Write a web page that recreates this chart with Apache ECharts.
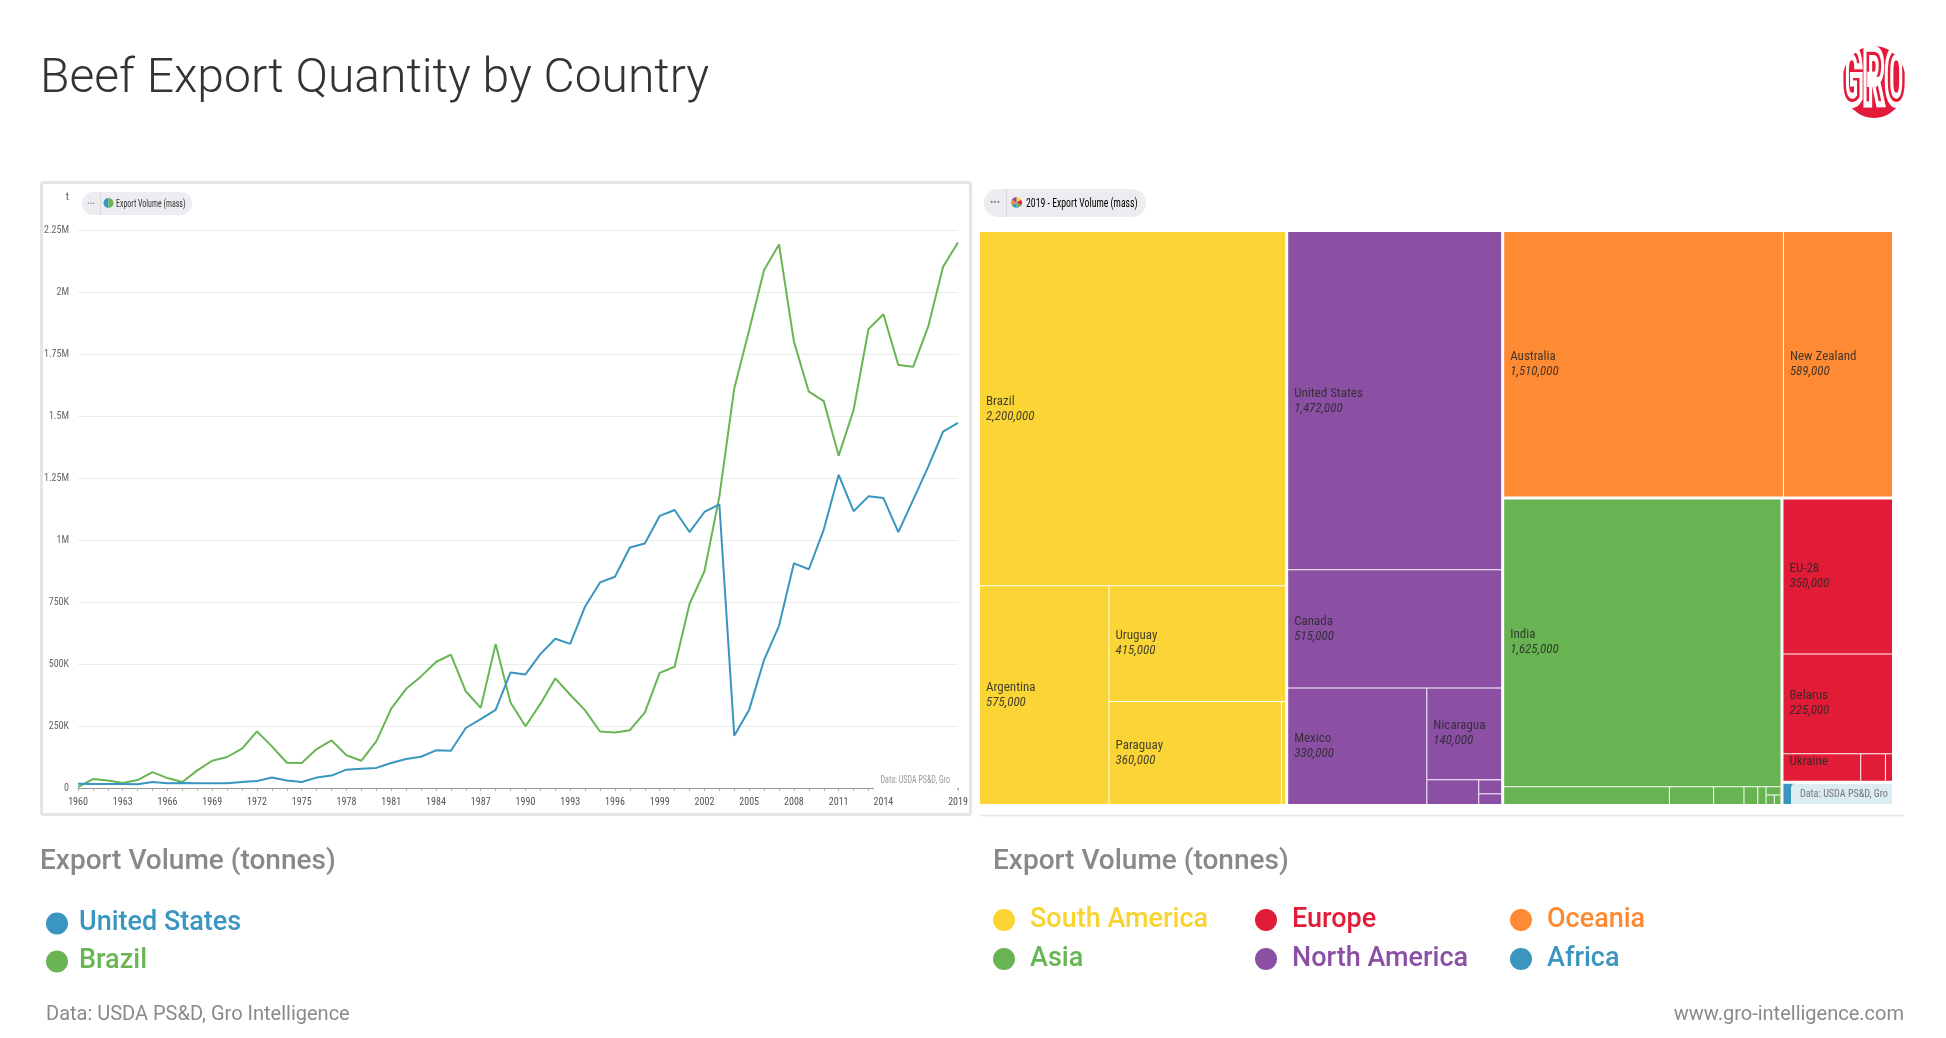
<!DOCTYPE html>
<html><head><meta charset="utf-8">
<script src="https://cdn.jsdelivr.net/npm/echarts@6/dist/echarts.min.js"></script>
<style>html,body{margin:0;padding:0;background:#fff;}#c{width:1946px;height:1038px;}</style>
</head><body><div id="c"></div>
<script>
// ---------- data ----------
const YEARS = ['1960','1961','1962','1963','1964','1965','1966','1967','1968','1969',
'1970','1971','1972','1973','1974','1975','1976','1977','1978','1979',
'1980','1981','1982','1983','1984','1985','1986','1987','1988','1989',
'1990','1991','1992','1993','1994','1995','1996','1997','1998','1999',
'2000','2001','2002','2003','2004','2005','2006','2007','2008','2009',
'2010','2011','2012','2013','2014','2015','2016','2017','2018','2019'];

const US_EXPORTS = [17000,16000,16000,16000,15000,24000,19000,20000,19000,19000,
19000,24000,28000,42000,30000,24000,42000,50000,74000,78000,
81000,101000,117000,126000,152000,150000,242000,278000,315000,466000,
458000,540000,602000,581000,732000,829000,852000,970000,986000,1097000,
1121000,1032000,1113000,1144000,211000,316000,517000,654000,906000,882000,
1042000,1263000,1116000,1176000,1169000,1032000,1163000,1295000,1437000,1472000];

const BRAZIL_EXPORTS = [4000,36000,30000,20000,32000,64000,40000,24000,71000,110000,
125000,159000,228000,168000,102000,101000,157000,192000,132000,110000,
188000,320000,400000,450000,508000,538000,390000,323000,581000,345000,
249000,339000,442000,376000,313000,228000,224000,233000,304000,464000,
489000,742000,874000,1175000,1611000,1847000,2089000,2192000,1800000,1598000,
1560000,1340000,1524000,1851000,1910000,1706000,1699000,1860000,2102000,2200000];

const REGIONS = ['South America','North America','Oceania','Asia','Europe','Africa'];

const SA_COUNTRIES = ['Brazil','Argentina','Uruguay','Paraguay','Other South America'];
const SA_VALUES = [2200000,575000,415000,360000,9000];
const NA_COUNTRIES = ['United States','Canada','Mexico','Nicaragua','Other North America 1','Other North America 2','Other North America 3'];
const NA_VALUES = [1472000,515000,330000,140000,26000,6500,5000];
const OC_COUNTRIES = ['Australia','New Zealand'];
const OC_VALUES = [1510000,589000];
const ASIA_COUNTRIES = ['India','Other Asia 1','Other Asia 2','Other Asia 3','Other Asia 4','Other Asia 5','Other Asia 6','Other Asia 7','Other Asia 8'];
const ASIA_VALUES = [1625000,60000,16000,11000,5000,3000,2500,1600,1300];
const EU_COUNTRIES = ['EU-28','Belarus','Ukraine','Other Europe 1','Other Europe 2'];
const EU_VALUES = [350000,225000,44000,14000,4000];
const AF_COUNTRIES = ['Other Africa'];
const AF_VALUES = [52000];

// ---------- styles ----------
const REGION_COLORS = ['#FAD535','#8B50A4','#FE8A33','#68B453','#E21B36','#3A96BE'];
const LEGEND_TEXT_COLORS = ['#F9D431','#8B50A4','#FD8A33','#66B553','#E21B36','#3A96BE'];
const US_COLOR = '#3A96C0', BR_COLOR = '#69B553';
const NARROW = "'Roboto Condensed','Liberation Sans Narrow','DejaVu Sans Condensed',Roboto,sans-serif";
const ROBOTO = "Roboto,'Noto Sans',sans-serif";

function region(name, countries, values, color) {
  return {
    name: name,
    itemStyle: { color: color },
    children: countries.map(function (c, i) {
      const item = { name: c, value: values[i], itemStyle: { color: color } };
      if (c.indexOf('Other') === 0) item.label = { show: false };
      return item;
    })
  };
}
const TREE = [
  region(REGIONS[0], SA_COUNTRIES, SA_VALUES, REGION_COLORS[0]),
  region(REGIONS[1], NA_COUNTRIES, NA_VALUES, REGION_COLORS[1]),
  region(REGIONS[2], OC_COUNTRIES, OC_VALUES, REGION_COLORS[2]),
  region(REGIONS[3], ASIA_COUNTRIES, ASIA_VALUES, REGION_COLORS[3]),
  region(REGIONS[4], EU_COUNTRIES, EU_VALUES, REGION_COLORS[4]),
  region(REGIONS[5], AF_COUNTRIES, AF_VALUES, REGION_COLORS[5])
];

function fmtAxis(v) {
  if (v === 0) return '0';
  if (v >= 1e6) return (v / 1e6) + 'M';
  return (v / 1e3) + 'K';
}

// rich spacer styles used to centre treemap labels vertically
const LABEL_RICH = {
  n: { fontSize: 13, fontFamily: NARROW, color: 'rgba(40,40,40,0.85)', lineHeight: 15 },
  v: { fontSize: 13, fontFamily: NARROW, fontStyle: 'italic', color: 'rgba(40,40,40,0.85)', lineHeight: 15 }
};
for (let i = 1; i <= 700; i++) LABEL_RICH['s' + i] = { fontSize: 1, lineHeight: i };

// ---------- graphics (frames, pills, legends, texts) ----------
const PIE_ICON = ['#FAD535','#E21B36','#68B453','#3A96BE','#FE8A33','#8B50A4'];
const graphics = [
  { type: 'text', x: 40, y: 80, style: { text: 'Beef Export Quantity by Country', font: '300 48px ' + ROBOTO, fill: '#333', verticalAlign: 'middle' } },
  { type: 'ellipse', shape: { cx: 1874, cy: 82, rx: 32, ry: 36 }, style: { fill: '#E31B3A' } },
  { type: 'text', x: 1874, y: 84, scaleX: 0.5, z: 5, style: { text: 'GRO', font: 'bold 78px ' + NARROW, fill: 'none', stroke: '#fff', lineWidth: 6, align: 'center', verticalAlign: 'middle' } },
  { type: 'rect', shape: { x: 41.5, y: 182.5, width: 929, height: 632, r: 2 }, style: { fill: '#fff', stroke: '#e5e5e9', lineWidth: 3 }, z: -10 },
  { type: 'rect', shape: { x: 82, y: 192, width: 110, height: 23, r: 11.5 }, style: { fill: '#ededf1' } },
  { type: 'text', x: 91, y: 203.5, style: { text: '•••', font: '8px ' + ROBOTO, fill: '#8a8a8a', align: 'center', verticalAlign: 'middle' } },
  { type: 'line', shape: { x1: 100.5, y1: 192, x2: 100.5, y2: 215 }, style: { stroke: '#d9d9de', lineWidth: 1 } },
  { type: 'sector', shape: { cx: 108.5, cy: 203, r: 5, startAngle: Math.PI / 2, endAngle: Math.PI * 1.5 }, style: { fill: US_COLOR } },
  { type: 'sector', shape: { cx: 108.5, cy: 203, r: 5, startAngle: -Math.PI / 2, endAngle: Math.PI / 2 }, style: { fill: BR_COLOR } },
  { type: 'text', x: 116, y: 204, scaleX: 0.72, style: { text: 'Export Volume (mass)', font: '11px ' + NARROW, fill: '#333', verticalAlign: 'middle' } },
  { type: 'rect', shape: { x: 874, y: 769, width: 83, height: 22 }, style: { fill: '#fff' }, z: 100 },
  { type: 'text', x: 950, y: 780, z: 101, scaleX: 0.8, style: { text: 'Data: USDA PS&D, Gro', font: '10px ' + NARROW, fill: '#9a9a9a', align: 'right', verticalAlign: 'middle' } },
  { type: 'rect', shape: { x: 984, y: 189, width: 162, height: 28, r: 14 }, style: { fill: '#ededf1' } },
  { type: 'text', x: 995, y: 203, style: { text: '•••', font: '10px ' + ROBOTO, fill: '#8a8a8a', align: 'center', verticalAlign: 'middle' } },
  { type: 'line', shape: { x1: 1006.5, y1: 189, x2: 1006.5, y2: 217 }, style: { stroke: '#d9d9de', lineWidth: 1 } },
  { type: 'text', x: 1026, y: 203.5, scaleX: 0.75, style: { text: '{a|2019 - }{b|Export Volume (mass)}', rich: { a: { fontSize: 13, fontFamily: NARROW, color: '#888' }, b: { fontSize: 13, fontFamily: NARROW, color: '#333' } }, verticalAlign: 'middle' } },
  { type: 'line', shape: { x1: 980, y1: 815.5, x2: 1904, y2: 815.5 }, style: { stroke: '#e4e4e6', lineWidth: 1.5 } },
  { type: 'rect', shape: { x: 1791, y: 783, width: 101, height: 21, r: [5, 0, 0, 0] }, style: { fill: 'rgba(255,255,255,0.82)' }, z: 100 },
  { type: 'text', x: 1800, y: 794, z: 101, scaleX: 0.92, style: { text: 'Data: USDA PS&D, Gro', font: '11px ' + NARROW, fill: '#777', verticalAlign: 'middle' } },
  { type: 'text', x: 40, y: 862, style: { text: 'Export Volume (tonnes)', font: '500 28px ' + ROBOTO, fill: '#898989', verticalAlign: 'middle' } },
  { type: 'text', x: 993, y: 862, style: { text: 'Export Volume (tonnes)', font: '500 28px ' + ROBOTO, fill: '#898989', verticalAlign: 'middle' } },
  { type: 'text', x: 46, y: 1015, style: { text: 'Data: USDA PS&D, Gro Intelligence', font: '20px ' + ROBOTO, fill: '#8a8a8a', verticalAlign: 'middle' } },
  { type: 'text', x: 1904, y: 1015, style: { text: 'www.gro-intelligence.com', font: '20px ' + ROBOTO, fill: '#8a8a8a', align: 'right', verticalAlign: 'middle' } }
];
PIE_ICON.forEach(function (c, i) {
  graphics.push({ type: 'sector', shape: { cx: 1016.5, cy: 202.5, r: 5.5, startAngle: -Math.PI / 2 + i * Math.PI / 3, endAngle: -Math.PI / 2 + (i + 1) * Math.PI / 3 }, style: { fill: c } });
});

const LEG_ORDER = [0, 4, 2, 3, 1, 5];
const LEG_X = [1004, 1266, 1521];
const LEG_Y = [920, 959];
LEG_ORDER.forEach(function (ri, k) {
  const cx = LEG_X[k % 3], cy = LEG_Y[Math.floor(k / 3)];
  graphics.push({ type: 'circle', shape: { cx: cx, cy: cy, r: 11 }, style: { fill: REGION_COLORS[ri] } });
  graphics.push({ type: 'text', x: cx + 26, y: cy, style: { text: REGIONS[ri], font: '500 27px ' + ROBOTO, fill: LEGEND_TEXT_COLORS[ri], verticalAlign: 'middle' } });
});

// ---------- chart ----------
const chart = echarts.init(document.getElementById('c'), null, { renderer: 'canvas' });

function treeLabel(p) {
  let k = 0;
  try {
    const node = chart.getModel().getSeriesByIndex(2).getData().tree.getNodeByDataIndex(p.dataIndex);
    const lay = node && node.getLayout();
    if (lay) k = Math.min(700, Math.max(0, Math.round((lay.height - 30) / 2)));
  } catch (e) { k = 0; }
  const head = k >= 1 ? '{s' + k + '| }\n' : '';
  return head + '{n|' + p.name + '}\n{v|' + Number(p.value).toLocaleString('en-US') + '}';
}

chart.setOption({
  animation: false,
  backgroundColor: '#fff',
  graphic: graphics,
  legend: {
    data: [
      { name: 'United States', textStyle: { color: US_COLOR } },
      { name: 'Brazil', textStyle: { color: BR_COLOR } }
    ],
    orient: 'vertical', left: 41, top: 905, itemWidth: 22, itemHeight: 22, itemGap: 11,
    icon: 'circle', selectedMode: false,
    textStyle: { fontSize: 27, fontWeight: 500, lineHeight: 22, fontFamily: ROBOTO, padding: [0, 0, 0, 6] }
  },
  grid: { left: 78, right: 1946 - 958, top: 230, bottom: 1038 - 788, containLabel: false },
  xAxis: {
    type: 'category', data: YEARS, boundaryGap: false,
    axisLine: { lineStyle: { color: '#999', width: 1 } },
    axisTick: { show: true, interval: 0, length: 3, lineStyle: { color: '#b0b0b0' } },
    axisLabel: {
      interval: function (i) { return (i % 3 === 0 && i <= 54) || i === 59; },
      color: '#555', fontSize: 10, fontFamily: NARROW, margin: 9
    },
    splitLine: { show: false }
  },
  yAxis: {
    type: 'value', min: 0, max: 2250000, interval: 250000,
    name: 't', nameLocation: 'end', nameGap: 27,
    nameTextStyle: { align: 'right', color: '#555', fontSize: 11, fontFamily: NARROW, padding: [0, 9, 0, 0] },
    axisLine: { show: false }, axisTick: { show: false },
    axisLabel: { formatter: fmtAxis, color: '#666', fontSize: 10, fontFamily: NARROW, margin: 9 },
    splitLine: { lineStyle: { color: '#ebebeb', width: 1 } }
  },
  series: [
    { type: 'line', name: 'United States', data: US_EXPORTS, symbol: 'none', lineStyle: { width: 2, color: US_COLOR }, itemStyle: { color: US_COLOR }, z: 4 },
    { type: 'line', name: 'Brazil', data: BRAZIL_EXPORTS, symbol: 'none', lineStyle: { width: 2, color: BR_COLOR }, itemStyle: { color: BR_COLOR }, z: 3 },
    {
      type: 'treemap', left: 980, top: 232, width: 912, height: 572,
      roam: false, nodeClick: false, squareRatio: 0.6,
      breadcrumb: { show: false },
      label: {
        show: true, position: 'insideTopLeft', distance: 0, padding: [0, 0, 0, 6],
        formatter: treeLabel,
        rich: LABEL_RICH
      },
      upperLabel: { show: false },
      itemStyle: { borderColor: '#fff' },
      levels: [
        { itemStyle: { gapWidth: 3, borderWidth: 0 } },
        { itemStyle: { gapWidth: 1, borderWidth: 0, borderColor: '#fff' } },
        { itemStyle: { borderWidth: 0 } }
      ],
      emphasis: { disabled: true },
      data: TREE
    }
  ]
});
</script></body></html>
